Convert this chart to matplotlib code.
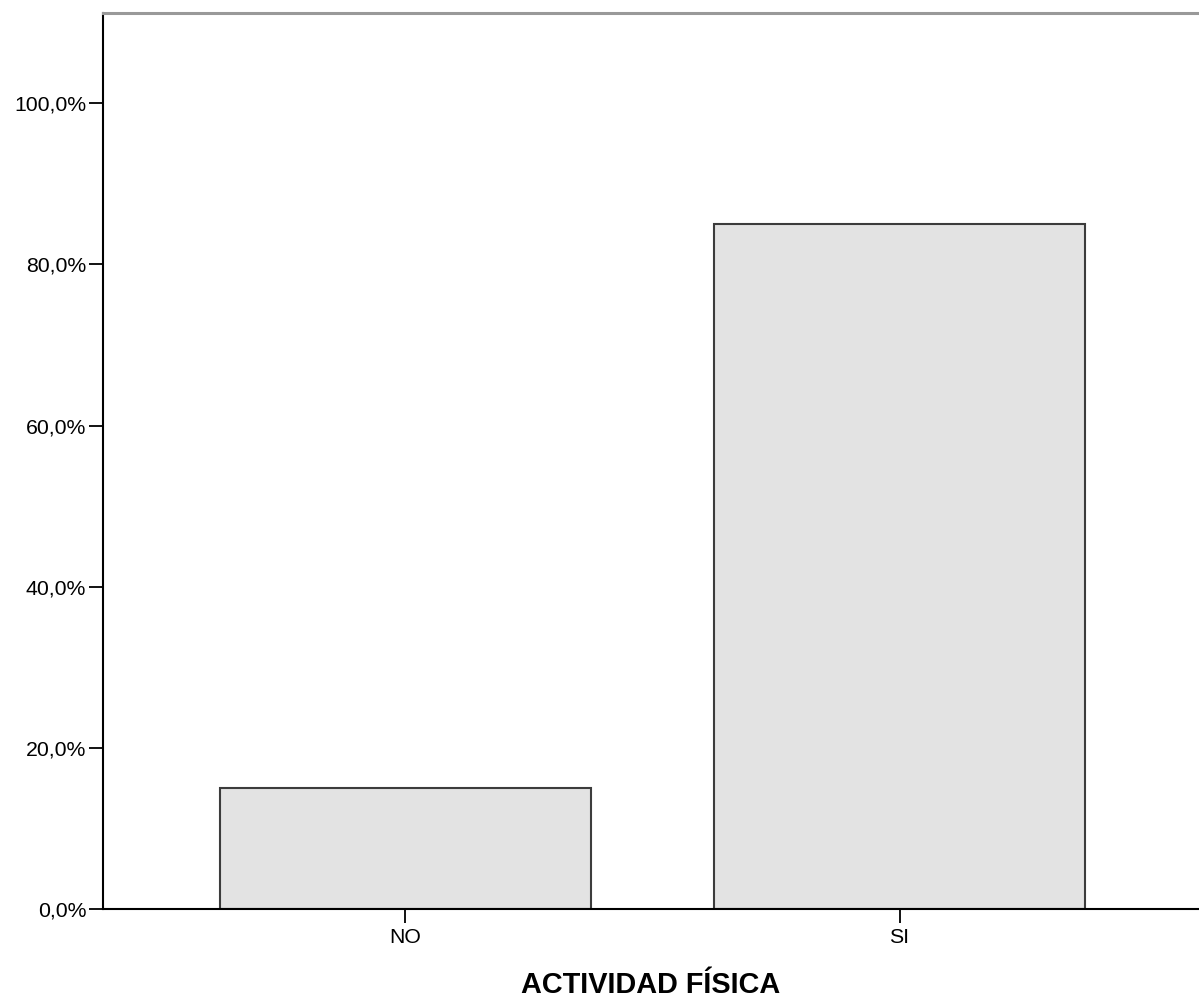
import matplotlib.pyplot as plt
from matplotlib.ticker import FuncFormatter

plt.rcParams['font.family'] = ['Liberation Sans', 'DejaVu Sans']

categorias = ['NO', 'SI']
porcentajes = [15.0, 85.0]
ticks_y = [0, 20, 40, 60, 80, 100]

fig = plt.figure(figsize=(11.99, 10.01), dpi=100)
ax = fig.add_axes([103 / 1199, 1 - 909 / 1001, 1 - 103 / 1199, (909 - 13) / 1001])

x = range(len(categorias))
ax.bar(x, porcentajes, width=0.751, color='#e3e3e3', edgecolor='#3c3c3c', linewidth=1.5, zorder=2)

ax.set_xlim(-0.612, 1.606)
ax.set_ylim(0, 111.2)
ax.set_xticks(list(x))
ax.set_xticklabels(categorias)
ax.set_yticks(ticks_y)
ax.yaxis.set_major_formatter(FuncFormatter(lambda v, p: ('%.1f%%' % v).replace('.', ',')))

ax.tick_params(axis='both', direction='out', length=10, width=1.3, color='black', labelsize=15.3, pad=2)
ax.tick_params(axis='x', pad=4)
ax.spines['right'].set_visible(False)
ax.spines['top'].set_color('#999999')
ax.spines['top'].set_linewidth(2.2)
ax.spines['left'].set_linewidth(1.5)
ax.spines['bottom'].set_linewidth(1.5)

ax.set_xlabel('ACTIVIDAD FÍSICA', fontsize=20.8, fontweight='bold', labelpad=17)

fig.savefig('out.png', dpi=100)
